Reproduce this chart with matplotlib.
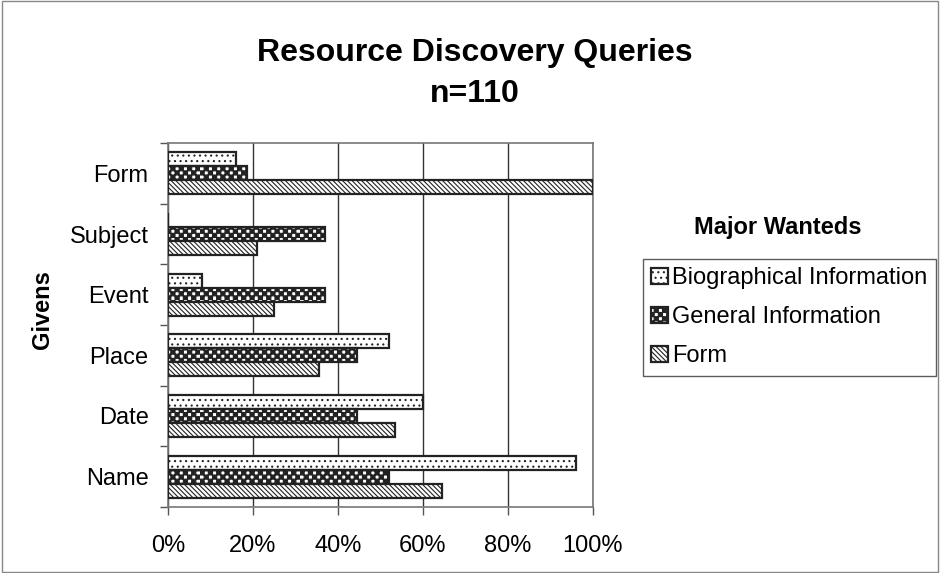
"""Resource Discovery Queries: horizontal grouped bars with hatched fills."""

import numpy as np
from matplotlib import hatch as mhatch
from matplotlib import pyplot as plt
from matplotlib.patches import Rectangle
from matplotlib.path import Path
from matplotlib.ticker import PercentFormatter

givens = ["Name", "Date", "Place", "Event", "Subject", "Form"]
biographical = [96, 60, 52, 8, 0, 16]
general = [52, 44.5, 44.5, 37, 37, 18.5]
form = [64.5, 53.5, 35.5, 25, 21, 100]
series_names = ["Biographical Information", "General Information", "Form"]
x_ticks = [0, 20, 40, 60, 80, 100]


class CheckerHatch(mhatch.HatchPatternBase):
    """Axis-aligned checkerboard, drawn for every 'o' in a hatch string."""

    def __init__(self, hatch, density):
        self.cells = hatch.count("o") * density
        if self.cells % 2:
            self.cells += 1
        self.num_vertices = (self.cells * self.cells // 2) * 5

    def set_vertices_and_codes(self, vertices, codes):
        step = 1.0 / self.cells
        square = np.array([[0, 0], [1, 0], [1, 1], [0, 1], [0, 0]], dtype=float) * step
        parts = [
            square + [col * step, row * step]
            for row in range(self.cells)
            for col in range(self.cells)
            if (row + col) % 2 == 0
        ]
        vertices[:] = np.concatenate(parts)
        codes[:] = np.tile(
            [Path.MOVETO, Path.LINETO, Path.LINETO, Path.LINETO, Path.CLOSEPOLY], len(parts)
        )


# swap the small-circle hatch for the checkerboard used by the old chart
mhatch._hatch_types = [
    CheckerHatch if kind is mhatch.SmallCircles else kind for kind in mhatch._hatch_types
]

plt.rcParams["font.family"] = ["Liberation Sans", "DejaVu Sans"]
plt.rcParams["hatch.linewidth"] = 0.8

figure = plt.figure(figsize=(9.4, 5.73), dpi=100)
axis = figure.add_axes([0.1787, 0.1152, 0.4521, 0.6352])

positions = np.arange(len(givens))
bar_height = 0.23
styles = [("...", +bar_height), ("oooo", 0.0), ("\\\\\\\\\\\\\\", -bar_height)]

handles = []
for values, name, (hatch, offset) in zip([biographical, general, form], series_names, styles):
    bars = axis.barh(
        positions + offset,
        values,
        height=bar_height,
        color="white",
        edgecolor="#222222",
        linewidth=1.6,
        hatch=hatch,
        label=name,
        zorder=3,
    )
    handles.append(bars)

axis.set_xlim(0, 100)
axis.set_ylim(-0.5, len(givens) - 0.5)
axis.set_xticks(x_ticks)
axis.xaxis.set_major_formatter(PercentFormatter(decimals=0))
axis.set_yticks(positions)
axis.set_yticklabels(givens)
axis.set_yticks(np.arange(-0.5, len(givens), 1.0), minor=True)
axis.tick_params(axis="y", which="major", length=0, pad=14, labelsize=17)
axis.tick_params(axis="y", which="minor", length=6, width=1, color="#555555")
axis.tick_params(axis="x", length=6, width=1, color="#555555", pad=14, labelsize=17)
axis.grid(axis="x", color="#333333", linewidth=1.0, zorder=0)
for spine in axis.spines.values():
    spine.set_color("#777777")
    spine.set_linewidth(1.2)

figure.text(0.045, 0.459, "Givens", rotation=90, ha="center", va="center",
            fontsize=17, fontweight="bold")

figure.text(
    0.505, 0.872, "Resource Discovery Queries\nn=110",
    ha="center", va="center", fontsize=23, fontweight="bold", linespacing=1.45,
)

figure.text(0.827, 0.603, "Major Wanteds", ha="center", va="center",
            fontsize=17, fontweight="bold")
legend = figure.legend(
    handles=handles,
    loc="upper left",
    bbox_to_anchor=(0.684, 0.548),
    frameon=True,
    fancybox=False,
    edgecolor="#333333",
    fontsize=17,
    handlelength=0.7,
    handleheight=0.7,
    handletextpad=0.2,
    borderpad=0.35,
    labelspacing=0.72,
    borderaxespad=0.0,
)
legend.get_frame().set_linewidth(1.0)

figure.patches.append(
    Rectangle((0.002, 0.002), 0.996, 0.996, transform=figure.transFigure,
              fill=False, edgecolor="#888888", linewidth=1.0)
)

figure.savefig("out.png", dpi=100)
